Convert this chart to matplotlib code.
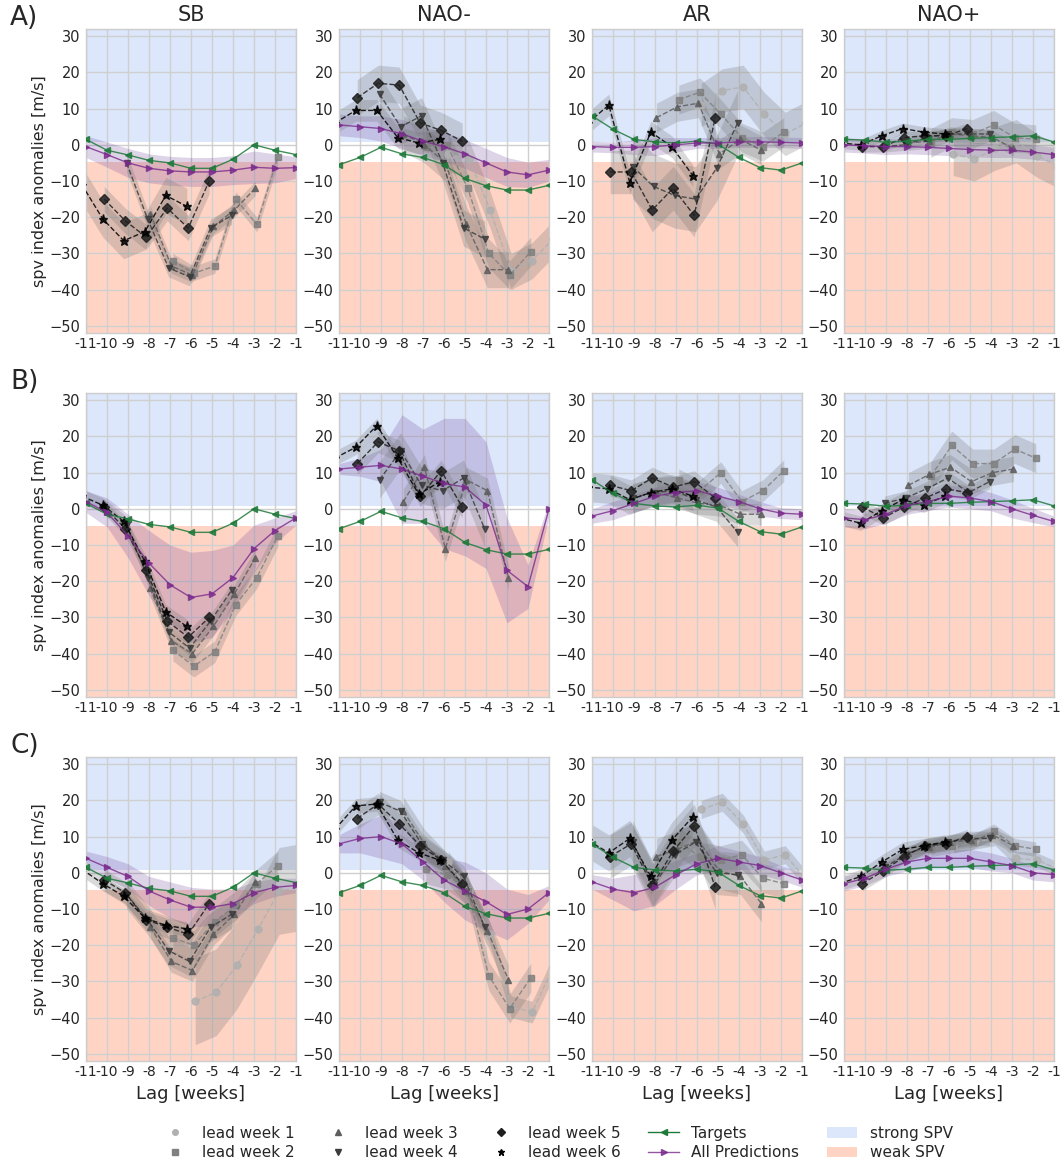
import matplotlib
matplotlib.use('Agg')
import matplotlib.pyplot as plt
import numpy as np
from matplotlib.lines import Line2D
from matplotlib.patches import Patch

# ---------------- data ----------------
lags = list(range(-11, 0))
xtick_labels = ['-11', '-10', '-9', '-8', '-7', '-6', '-5', '-4', '-3', '-2', '-1']
columns = ['SB', 'NAO-', 'AR', 'NAO+']
rows = ['A)', 'B)', 'C)']
lead_names = ['lead week 1', 'lead week 2', 'lead week 3', 'lead week 4', 'lead week 5', 'lead week 6']

# targets (same in every row of a column)
targets_SB = [1.5, -1.5, -2.8, -4.3, -5.0, -6.5, -6.5, -4.0, 0.0, -1.5, -2.7]
targets_NAOm = [-5.5, -3.5, -0.7, -2.5, -3.5, -5.5, -9.3, -11.3, -12.5, -12.5, -11.2]
targets_AR = [8.0, 4.3, 1.5, 0.8, 0.5, 1.0, 0.2, -3.5, -6.3, -7.0, -5.0]
targets_NAOp = [1.5, 1.3, 0.7, 1.0, 1.5, 1.5, 1.8, 2.0, 2.2, 2.5, 0.8]

N = None
# ---- row A ----
A_SB_pred = [-0.5, -2.7, -5.0, -6.5, -7.2, -7.5, -7.5, -7.0, -6.2, -6.5, -6.3]
A_SB_pred_sd = [3, 3.5, 4, 4, 4, 4, 4, 4, 4.5, 4, 3]
A_SB_leads = [[N, N, N, N, N, N],
              [-32, -35.5, -33.5, -15, -22, -3.5],
              [-19, -33.5, -36, -22.5, -18, -12],
              [-5, -20.5, -34, -36.5, -23, -19.5],
              [-15, -21, -25.5, -17.5, -23, -10],
              [-11, -20.5, -26.5, -24, -14, -17]]
A_SB_lead_sd = [0, 2, 2, 2.5, 3.5, 5]

A_NAOm_pred = [5.5, 5.0, 4.5, 3.0, 1.0, -0.5, -2.5, -5.0, -7.5, -8.3, -7.0]
A_NAOm_pred_sd = [3, 3, 3.5, 4, 4, 4, 4, 4, 4, 3.5, 3]
A_NAOm_leads = [[-2.5, -4, -18, -35, -32, -26],
                [-0.5, 0, -12, -30, -36, -29.5],
                [3, 0, -5, -22, -34.5, -34.5],
                [14, 5, 8, -5, -23, -26],
                [13, 17, 16.5, 6, 4, 1],
                [6, 9.5, 9.5, 2, 0.5, 1.5]]
A_NAOm_lead_sd = [5, 4, 5, 5, 5, 3]

A_AR_pred = [-0.5, -0.7, -0.7, -0.5, 0.0, 0.5, 0.5, 0.8, 0.8, 0.7, 0.5]
A_AR_pred_sd = [1.5, 1.5, 2, 2.5, 2, 1.5, 1.5, 1.5, 1.5, 1.5, 1.5]
A_AR_leads = [[11, 15, 16, 8.5, 3, 6],
              [12.5, 14.5, 8.5, 2, -0.5, 3.5],
              [7.5, 10.5, 11.5, -2.5, 1.5, -1.5],
              [-6, -11.5, -14, -15, -6.5, 6],
              [-7.5, -7.5, -18, -12, -19.5, 7.5],
              [6, 11, -10.5, 3.5, -0.5, -8.5]]
A_AR_lead_sd = [6, 4, 4, 9, 6, 3]

A_NAOp_pred = [0.0, -0.3, -0.5, -0.5, -0.7, -1.0, -1.3, -1.5, -1.5, -2.0, -2.7]
A_NAOp_pred_sd = [2, 2, 2.2, 2, 2, 2, 2, 2, 2, 2, 2]
A_NAOp_leads = [[-2.5, -4, -1, 1, -3, -6],
                [0.5, 3.5, 3, 5.5, 2, 1.5],
                [0.5, 1, 3, 2.5, 2, -1],
                [-0.5, 0, 2, 3, 3, 3],
                [-0.5, -0.5, 2, 2.5, 2.5, 4.5],
                [0.5, 0, 2.5, 4.5, 3.5, 3]]
A_NAOp_lead_sd = [6, 4, 2, 1.5, 1.5, 1.5]

# ---- row B ----
B_SB_pred = [2, -1, -7.5, -15, -21, -24.5, -23.5, -19, -11, -6, -2.5]
B_SB_pred_sd = [3, 4, 6, 9, 11, 12.5, 12, 9, 6.5, 3.5, 2]
B_SB_leads = [[N, N, N, N, N, N],
              [-39, -43.5, -39.5, -26.5, -19, -7.5],
              [-22, -36.5, -40, -32.5, -23.5, -13.5],
              [-4.5, -19, -34, -38.5, -31, -22.5],
              [0.5, -5.5, -17, -31, -35.5, -30],
              [3.5, 1, -3.5, -14.5, -28.5, -32.5]]
B_SB_lead_sd = [0, 3, 2.5, 2, 2, 2]

B_NAOm_pred = [11, 11.5, 12, 11, 9, 7, 6, 1, -17, -21.5, 0]
B_NAOm_pred_sd = [1.5, 2.5, 4.5, 15, 13, 18, 19, 17.5, 14.5, 6, 2]
B_NAOm_leads = [[N, N, N, N, N, N],
                [N, N, N, N, N, N],
                [2, 11.5, -11, 8, 5, -19],
                [8, 16, 6.5, 5, 8.5, -5.5],
                [12.5, 18.5, 16, 3.5, 10.5, 0.5],
                [14, 17, 23, 14, 4, 7.5]]
B_NAOm_lead_sd = [0, 0, 3.5, 5, 3, 2]

B_AR_pred = [-2, -0.5, 1.5, 3.5, 4.5, 5, 3.5, 2, 0, -1.2, -1.5]
B_AR_pred_sd = [2, 2.5, 2.5, 2.5, 2.5, 2.5, 2.5, 2, 2, 1.5, 1.5]
B_AR_leads = [[N, N, N, N, N, N],
              [8, 5, 10, 2, 5, 10.5],
              [4.5, 3, 1.5, 1, -1.5, -1.5],
              [3, 4.5, 5, 2.5, 0.5, -6.5],
              [6.5, 5, 8.5, 6, 7.5, 3],
              [6, 5.5, 2.5, 4.5, 5.5, 3.5]]
B_AR_lead_sd = [0, 3, 3, 4, 3, 4]

B_NAOp_pred = [-2.5, -3, -1.5, 1, 2, 3.5, 3, 2, 0, -1.8, -3.5]
B_NAOp_pred_sd = [2.5, 2.5, 2.5, 2.5, 2.5, 3, 3, 2.5, 2.5, 2, 1.5]
B_NAOp_leads = [[N, N, N, N, N, N],
                [9, 17.5, 12.5, 12.5, 16.5, 14],
                [6.5, 9.5, 11.5, 7.5, 10, 11],
                [1.5, 3, 5.5, 8.5, 4.5, 7.5],
                [0.5, -2.5, 0.5, 3, 5.5, 4.5],
                [-2.5, -4, -0.5, 2.5, 1, 3.5]]
B_NAOp_lead_sd = [0, 4, 3.5, 2, 2, 2]

# ---- row C ----
C_SB_pred = [4, 1.5, -1, -5, -7.5, -9.5, -9.5, -8.5, -5.5, -4, -3.5]
C_SB_pred_sd = [2, 3, 3.5, 4, 5, 5.5, 5, 4, 3, 2.5, 2]
C_SB_leads = [[-35.5, -33, -25.5, -15.5, -5, -4],
              [-18, -20, -13.5, -9, -3, 2],
              [-15, -24.5, -27, -17, -11.5, -2.5],
              [-6, -13, -21.5, -24.5, -15, -11.5],
              [-2, -5.5, -13, -15, -17, -8.5],
              [1, -3, -6.5, -12.5, -14.5, -15.5]]
C_SB_lead_sd = [12, 4, 3, 4, 3, 2]

C_NAOm_pred = [8, 9.5, 10, 8, 3, -2, -5, -8, -11.5, -10, -5.5]
C_NAOm_pred_sd = [2.5, 4, 6, 5.5, 5, 6, 8, 8, 7, 4, 2]
C_NAOm_leads = [[3, -5, -17, -37, -38.5, -26],
                [1, -0.5, -5, -28.5, -37.5, -29],
                [17, 8, 2, -5, -16, -29.5],
                [19.5, 17, 8, 3.5, -1, -15],
                [15, 19, 13.5, 7.5, 3.5, -3],
                [12, 18.5, 19, 9, 5.5, 3.5]]
C_NAOm_lead_sd = [3, 4, 4, 3, 3, 2]

C_AR_pred = [-2.5, -4.5, -5.5, -4, -0.5, 2.5, 4, 3, 2, 0, -2]
C_AR_pred_sd = [2, 3, 5, 5, 4, 3, 3.5, 3, 2.5, 2, 2]
C_AR_leads = [[17.5, 19.5, 13.5, 3.5, 5, -2],
              [8.5, 4.5, 3.5, 5, -1.5, -3],
              [4.5, 6.5, 9, 0.5, -1, -8.5],
              [8.5, -3.5, 5, 8.5, 0, -0.5],
              [4.5, 8, -3.5, 6, 13, -4],
              [9, 5.5, 9.5, -1, 9, 15.5]]
C_AR_lead_sd = [2.5, 4, 5, 6, 6, 5]

C_NAOp_pred = [-3, -1.5, 1, 3, 4, 4, 4, 3, 2, 0, -0.5]
C_NAOp_pred_sd = [2, 2, 2, 2.5, 2.5, 2.5, 2.5, 2.5, 2, 2, 2]
C_NAOp_leads = [[7.5, 8.5, 9.5, 4, 3.5, 1],
                [6.5, 7.5, 8.5, 11.5, 7.5, 6.5],
                [5.5, 7, 8.5, 9, 10.5, 7.5],
                [1.5, 5, 7.5, 8.5, 9.5, 9.5],
                [-3, 0.5, 4.5, 7.5, 8, 10],
                [-3, -1, 3, 6.5, 7.5, 8.5]]
C_NAOp_lead_sd = [2, 2, 2, 2, 2, 2]

strong_thr = 0.8
weak_thr = -4.7

# ---------------- style ----------------
plt.rcParams['font.family'] = ['DejaVu Sans']
plt.rcParams['text.color'] = '#262626'
plt.rcParams['xtick.color'] = '#262626'
plt.rcParams['ytick.color'] = '#262626'
plt.rcParams['axes.labelcolor'] = '#262626'

lead_colors = ['#b0b0b0', '#808080', '#5e5e5e', '#3c3c3c', '#1e1e1e', '#000000']
lead_markers = ['o', 's', '^', 'v', 'D', '*']
lead_offsets = [0.2, 0.133, 0.067, -0.067, -0.133, -0.2]
target_color = '#1f7a3a'
pred_color = '#7a2a8c'
strong_color = 'cornflowerblue'
weak_color = 'coral'

W, H = 1061, 1166
fig = plt.figure(figsize=(W / 100, H / 100), dpi=100)

col_left = [86, 339, 592, 844]
row_top = [29, 393, 757]
aw, ah = 210, 304

panel_data = [
    [(targets_SB, A_SB_pred, A_SB_pred_sd, A_SB_leads, A_SB_lead_sd),
     (targets_NAOm, A_NAOm_pred, A_NAOm_pred_sd, A_NAOm_leads, A_NAOm_lead_sd),
     (targets_AR, A_AR_pred, A_AR_pred_sd, A_AR_leads, A_AR_lead_sd),
     (targets_NAOp, A_NAOp_pred, A_NAOp_pred_sd, A_NAOp_leads, A_NAOp_lead_sd)],
    [(targets_SB, B_SB_pred, B_SB_pred_sd, B_SB_leads, B_SB_lead_sd),
     (targets_NAOm, B_NAOm_pred, B_NAOm_pred_sd, B_NAOm_leads, B_NAOm_lead_sd),
     (targets_AR, B_AR_pred, B_AR_pred_sd, B_AR_leads, B_AR_lead_sd),
     (targets_NAOp, B_NAOp_pred, B_NAOp_pred_sd, B_NAOp_leads, B_NAOp_lead_sd)],
    [(targets_SB, C_SB_pred, C_SB_pred_sd, C_SB_leads, C_SB_lead_sd),
     (targets_NAOm, C_NAOm_pred, C_NAOm_pred_sd, C_NAOm_leads, C_NAOm_lead_sd),
     (targets_AR, C_AR_pred, C_AR_pred_sd, C_AR_leads, C_AR_lead_sd),
     (targets_NAOp, C_NAOp_pred, C_NAOp_pred_sd, C_NAOp_leads, C_NAOp_lead_sd)],
]

x = np.array(lags, dtype=float)
for r in range(3):
    for c in range(4):
        targ, pred, pred_sd, leads, lead_sd = panel_data[r][c]
        ax = fig.add_axes([col_left[c] / W, 1 - (row_top[r] + ah) / H, aw / W, ah / H])
        ax.set_axisbelow(True)
        ax.grid(True, color='#cfcfcf', lw=1.0, zorder=0.5)
        ax.axhspan(strong_thr, 32, color=strong_color, alpha=0.22, lw=0, zorder=0)
        ax.axhspan(-52, weak_thr, color=weak_color, alpha=0.33, lw=0, zorder=0)

        p = np.array(pred, dtype=float)
        ps = np.array(pred_sd, dtype=float)
        ax.fill_between(x, p - ps, p + ps, color='#6a3d9a', alpha=0.22, lw=0, zorder=1)

        for k in range(6):
            v = np.array(leads[k], dtype=float)
            if np.all(np.isnan(v)):
                continue
            lx = np.arange(-(6 + k), -(k + 1) + 1, dtype=float) + lead_offsets[k]
            s = lead_sd[k]
            ax.fill_between(lx, v - s, v + s, color='#6f6f6f', alpha=0.25, lw=0, zorder=2)
            ax.plot(lx, v, ls='--', lw=1.0, color=lead_colors[k], marker=lead_markers[k],
                    ms=6.5 if lead_markers[k] == '*' else 5, alpha=0.85, zorder=3)

        ax.plot(x, targ, color=target_color, lw=1.0, marker='<', ms=5, alpha=0.85, zorder=4)
        ax.plot(x, pred, color=pred_color, lw=1.0, marker='>', ms=5, alpha=0.8, zorder=4)

        ax.set_xlim(-11, -1)
        ax.set_ylim(-52, 32)
        ax.set_xticks(lags)
        ax.set_xticklabels(xtick_labels, fontsize=10)
        ax.set_yticks(range(-50, 31, 10))
        ax.tick_params(axis='y', labelsize=10.5, length=0, pad=4)
        ax.tick_params(axis='x', length=0, pad=3)
        for sp in ax.spines.values():
            sp.set_color('#cccccc')
            sp.set_linewidth(1.0)
        if c == 0:
            ax.set_ylabel('spv index anomalies [m/s]', fontsize=11.5, labelpad=2)
        if r == 0:
            ax.set_title(columns[c], fontsize=15, pad=6)
        if r == 2:
            ax.set_xlabel('Lag [weeks]', fontsize=13)
    fig.text(10 / W, 1 - (row_top[r] - 11) / H, rows[r], fontsize=19, ha='left', va='center')

handles = []
for k in range(6):
    handles.append(Line2D([], [], ls='none', marker=lead_markers[k], color=lead_colors[k],
                          ms=4 if lead_markers[k] != '*' else 5))
handles.append(Line2D([], [], color=target_color, marker='<', ms=4, lw=1.0))
handles.append(Line2D([], [], color=pred_color, marker='>', ms=4, lw=1.0, alpha=0.8))
handles.append(Patch(facecolor=strong_color, alpha=0.22, edgecolor='none'))
handles.append(Patch(facecolor=weak_color, alpha=0.33, edgecolor='none'))
labels = lead_names + ['Targets', 'All Predictions', 'strong SPV', 'weak SPV']
fig.legend(handles, labels, ncol=5, loc='center', bbox_to_anchor=(556 / W, 1 - 1143 / H),
           frameon=False, fontsize=11, columnspacing=1.8, handlelength=2.0,
           handletextpad=0.8, labelspacing=0.3)

fig.savefig('out.png', dpi=100)
